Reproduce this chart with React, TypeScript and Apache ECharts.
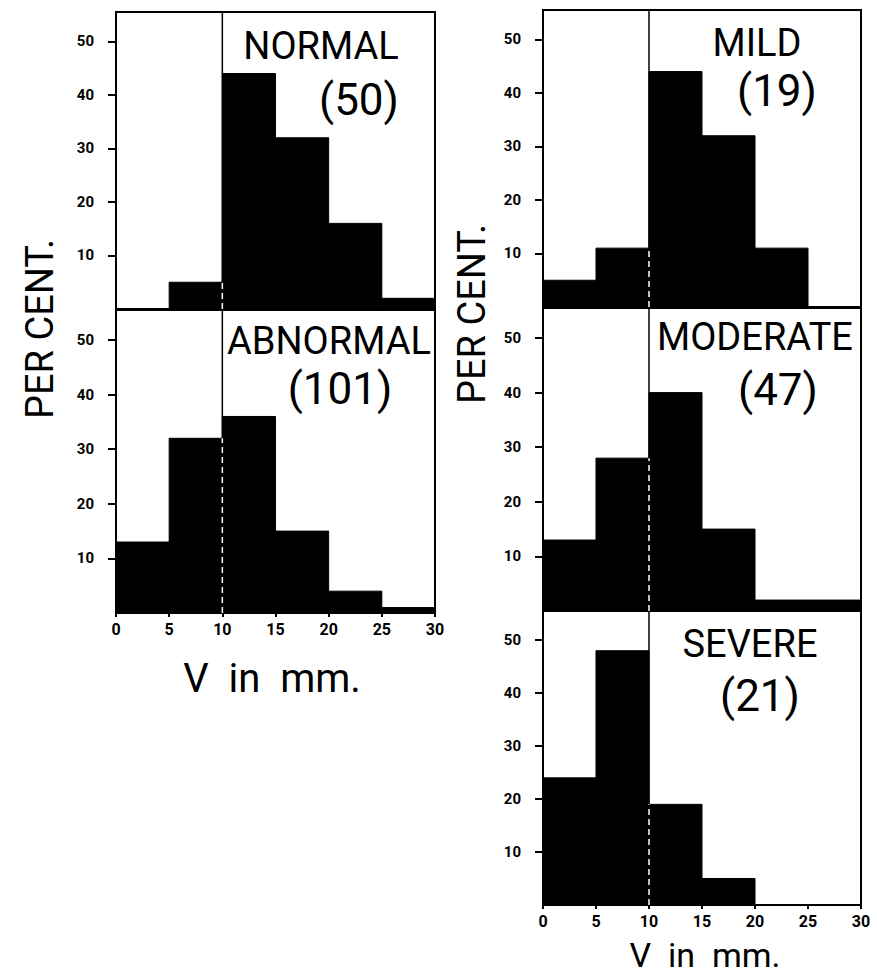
import React, { useEffect, useRef } from "react";
import * as echarts from "echarts";

// ---- data ----
const BIN_EDGES = [0, 5, 10, 15, 20, 25, 30];
const X_TICKS = [0, 5, 10, 15, 20, 25, 30];
const Y_TICKS = [10, 20, 30, 40, 50];
const Y_MAX = 55.5;
const DIVIDER = 10;

const NORMAL = [0, 5, 44, 32, 16, 2];
const ABNORMAL = [13, 32, 36, 15, 4, 1];
const MILD = [5, 11, 44, 32, 11, 0];
const MODERATE = [13, 28, 40, 15, 2, 2];
const SEVERE = [24, 48, 19, 5, 0, 0];

const TITLES = ["NORMAL", "ABNORMAL", "MILD", "MODERATE", "SEVERE"];
const COUNTS = ["(50)", "(101)", "(19)", "(47)", "(21)"];
const Y_LABEL = "PER CENT.";
const X_LABEL = "V  in  mm.";

// ---- layout ----
const PANELS = [
  { values: NORMAL, left: 116, top: 12, width: 319, height: 297, xLabels: false,
    t: [321, 46], c: [359, 100] },
  { values: ABNORMAL, left: 116, top: 310, width: 319, height: 303, xLabels: true,
    t: [329, 341], c: [340, 389] },
  { values: MILD, left: 543, top: 10, width: 318, height: 297, xLabels: false,
    t: [757, 43], c: [777, 91] },
  { values: MODERATE, left: 543, top: 308, width: 318, height: 303, xLabels: false,
    t: [755, 337], c: [778, 390] },
  { values: SEVERE, left: 543, top: 611, width: 318, height: 294, xLabels: true,
    t: [750, 644], c: [760, 696] },
];

const FONT = "Roboto, 'DejaVu Sans', sans-serif";

export default function App() {
  const ref = useRef<HTMLDivElement>(null);

  useEffect(() => {
    document.body.style.margin = "0";
    if (!ref.current) return;
    const chart = echarts.init(ref.current, undefined, { renderer: "svg" });

    const grid: any[] = [];
    const xAxis: any[] = [];
    const yAxis: any[] = [];
    const series: any[] = [];
    const graphic: any[] = [];

    PANELS.forEach((p, i) => {
      grid.push({
        left: p.left,
        top: p.top,
        width: p.width,
        height: p.height,
        show: true,
        borderColor: "#000",
        borderWidth: 2,
        backgroundColor: "transparent",
      });
      xAxis.push({
        type: "value",
        gridIndex: i,
        min: 0,
        max: 30,
        interval: 5,
        splitLine: { show: false },
        axisLine: { show: true, lineStyle: { color: "#000", width: 2 } },
        axisTick: { show: p.xLabels, length: 4, lineStyle: { color: "#000", width: 2 }, customValues: X_TICKS },
        axisLabel: {
          show: p.xLabels,
          customValues: X_TICKS,
          margin: 8,
          color: "#000",
          fontSize: 16,
          fontWeight: "bold",
          fontFamily: FONT,
        },
      });
      yAxis.push({
        type: "value",
        gridIndex: i,
        min: 0,
        max: Y_MAX,
        splitLine: { show: false },
        axisLine: { show: true, lineStyle: { color: "#000", width: 2 } },
        axisTick: { show: true, length: 8, lineStyle: { color: "#000", width: 2 }, customValues: Y_TICKS },
        axisLabel: {
          customValues: Y_TICKS,
          margin: 22,
          color: "#000",
          fontSize: 15,
          fontWeight: "bold",
          fontFamily: FONT,
        },
      });

      const data = p.values.map((v, k) => [BIN_EDGES[k], BIN_EDGES[k + 1], v]);
      series.push({
        type: "custom",
        xAxisIndex: i,
        yAxisIndex: i,
        encode: { x: [0, 1], y: 2 },
        data,
        z: 2,
        renderItem: (params: any, api: any) => {
          const x0 = api.value(0);
          const x1 = api.value(1);
          const v = api.value(2);
          if (!v) return null;
          const a = api.coord([x0, v]);
          const b = api.coord([x1, 0]);
          return {
            type: "rect",
            shape: { x: a[0], y: a[1], width: b[0] - a[0], height: b[1] - a[1] },
            style: { fill: "#000", stroke: "#000", lineWidth: 1 },
          };
        },
      });
      // divider line at V = 10 (black full height)
      series.push({
        type: "line",
        xAxisIndex: i,
        yAxisIndex: i,
        data: [[DIVIDER, 0], [DIVIDER, Y_MAX]],
        symbol: "none",
        lineStyle: { color: "#000", width: 1.5 },
        z: 3,
        silent: true,
      });
      // white dashed part where both neighbouring bins are filled
      const k = BIN_EDGES.indexOf(DIVIDER);
      const low = Math.min(p.values[k - 1], p.values[k]);
      series.push({
        type: "line",
        xAxisIndex: i,
        yAxisIndex: i,
        data: [[DIVIDER, 0], [DIVIDER, low]],
        symbol: "none",
        lineStyle: { color: "#fff", width: 1.5, type: [6, 4] },
        z: 4,
        silent: true,
      });

      graphic.push({
        type: "text",
        x: p.t[0],
        y: p.t[1],
        z: 10,
        style: {
          text: TITLES[i],
          fontSize: 38,
          fontWeight: 400,
          fontFamily: FONT,
          fill: "#000",
          align: "center",
          verticalAlign: "middle",
        },
      });
      graphic.push({
        type: "text",
        x: p.c[0],
        y: p.c[1],
        z: 10,
        style: {
          text: COUNTS[i],
          fontSize: 44,
          fontWeight: 400,
          fontFamily: FONT,
          fill: "#000",
          align: "center",
          verticalAlign: "middle",
        },
      });
    });

    // axis titles
    graphic.push({
      type: "text",
      x: 40,
      y: 329,
      rotation: Math.PI / 2,
      style: { text: Y_LABEL, fontSize: 38, fontFamily: FONT, fill: "#000", align: "center", verticalAlign: "middle" },
    });
    graphic.push({
      type: "text",
      x: 472,
      y: 314,
      rotation: Math.PI / 2,
      style: { text: Y_LABEL, fontSize: 38, fontFamily: FONT, fill: "#000", align: "center", verticalAlign: "middle" },
    });
    graphic.push({
      type: "text",
      x: 272,
      y: 678,
      style: { text: X_LABEL, fontSize: 40, fontFamily: FONT, fill: "#000", align: "center", verticalAlign: "middle" },
    });
    graphic.push({
      type: "text",
      x: 705,
      y: 955,
      style: { text: X_LABEL, fontSize: 34, fontFamily: FONT, fill: "#000", align: "center", verticalAlign: "middle" },
    });

    chart.setOption({
      animation: false,
      backgroundColor: "#fff",
      grid,
      xAxis,
      yAxis,
      series,
      graphic,
    });

    return () => chart.dispose();
  }, []);

  return <div ref={ref} style={{ width: 877, height: 978 }} />;
}
